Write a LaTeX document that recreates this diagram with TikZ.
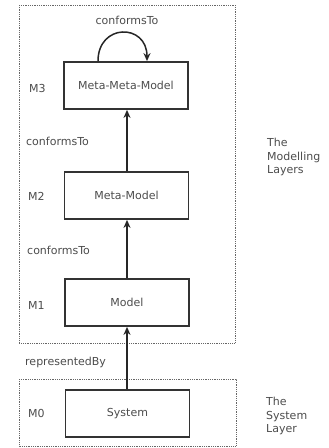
\documentclass[tikz,border=0pt]{standalone}
\usepackage{fontspec}
\setmainfont{DejaVu Sans}
\usetikzlibrary{arrows.meta}
\begin{document}
\begin{tikzpicture}[x=1pt,y=-1pt,
  every node/.style={font=\fontsize{11}{13.5}\selectfont, text=black!70},
  layerbox/.style={draw=black!80, line width=1.8pt, minimum width=124pt, minimum height=47pt, inner sep=0pt},
  layerframe/.style={draw=black!60, line width=0.9pt, dash pattern=on 0.9pt off 0.9pt},
  relation/.style={draw=black!85, line width=1.5pt, -{Stealth[length=8pt,width=7pt]}},
  sidetext/.style={align=left, anchor=west, inner sep=0pt}
]
\useasboundingbox (0,0) rectangle (329,448);
% layer frames
\draw[layerframe] (19,5) rectangle (235,343);
\draw[layerframe] (19,379) rectangle (236,446);
% model boxes
\node[layerbox] (mmm) at (126,85.5) {Meta-Meta-Model};
\node[layerbox] (mm) at (126.5,195.5) {Meta-Model};
\node[layerbox] (m) at (127,302.5) {Model};
\node[layerbox] (sys) at (127.5,413.5) {System};
% level labels
\node[anchor=west, inner sep=0pt] (l3) at (29,88) {M3};
\node[anchor=west, inner sep=0pt] (l2) at (28,196) {M2};
\node[anchor=west, inner sep=0pt] (l1) at (28,305) {M1};
\node[anchor=west, inner sep=0pt] (l0) at (28,413) {M0};
% relations (kept on one vertical line)
\coordinate (loopa) at ([xshift=-28pt]mmm.north);
\coordinate (loopb) at ([xshift=21pt]mmm.north);
\draw[relation] (loopa) .. controls +(0,-38) and +(0,-38) .. (loopb);
\draw[relation] (mm.north -| 127,0) -- (mmm.south -| 127,0);
\draw[relation] (m.north -| 127,0) -- (mm.south -| 127,0);
\draw[relation] (sys.north -| 127,0) -- (m.south -| 127,0);
% relation labels
\node (c3) at (127,20) {conformsTo};
\node[anchor=west, inner sep=0pt] (c2) at (26,141) {conformsTo};
\node[anchor=west, inner sep=0pt] (c1) at (27,250) {conformsTo};
\node[anchor=west, inner sep=0pt] (rb) at (25,362) {representedBy};
% layer captions
\node[sidetext] (ml) at (267,157) {The\\Modelling\\Layers};
\node[sidetext] (sl) at (266,416) {The\\System\\Layer};
\end{tikzpicture}
\end{document}
